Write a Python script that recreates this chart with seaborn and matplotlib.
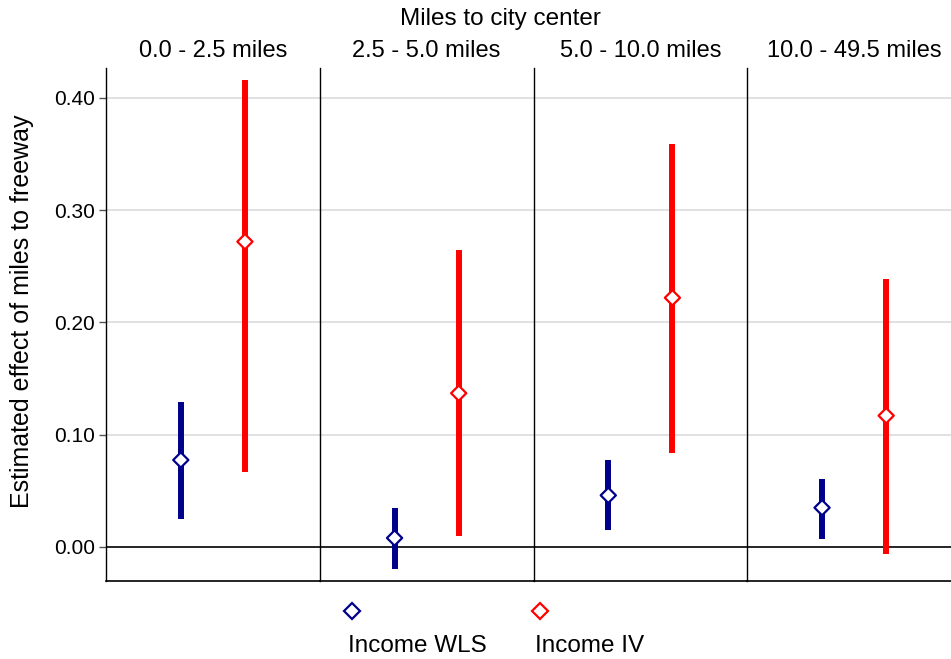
import matplotlib
matplotlib.use("Agg")
import matplotlib.pyplot as plt
from matplotlib.lines import Line2D
import seaborn as sns
import pandas as pd

panels = ["0.0 - 2.5 miles", "2.5 - 5.0 miles", "5.0 - 10.0 miles", "10.0 - 49.5 miles"]
series = ["Income WLS", "Income IV"]
wls_est = [0.0775, 0.008, 0.046, 0.035]
wls_lo = [0.025, -0.0196, 0.015, 0.007]
wls_hi = [0.129, 0.035, 0.0775, 0.061]
iv_est = [0.272, 0.137, 0.222, 0.117]
iv_lo = [0.067, 0.010, 0.084, -0.006]
iv_hi = [0.416, 0.265, 0.359, 0.239]
yticks = [0.0, 0.1, 0.2, 0.3, 0.4]
ytick_labels = ["0.00", "0.10", "0.20", "0.30", "0.40"]

colors = {"Income WLS": "#00008B", "Income IV": "#FF0000"}

rows = []
for i, p in enumerate(panels):
    rows.append(dict(panel=p, series="Income WLS", pos=0, est=wls_est[i], lo=wls_lo[i], hi=wls_hi[i]))
    rows.append(dict(panel=p, series="Income IV", pos=1, est=iv_est[i], lo=iv_lo[i], hi=iv_hi[i]))
df = pd.DataFrame(rows)

sns.set_theme(style="white")
plt.rcParams["font.family"] = ["Liberation Sans", "DejaVu Sans"]
plt.rcParams["text.color"] = "black"
plt.rcParams["ytick.color"] = "black"

W, H = 951, 659
fig = plt.figure(figsize=(W / 100, H / 100), dpi=100)

left = 106 / W
pw = 213.75 / W
bottom = 1 - 581 / H
height = (581 - 68) / H

for i, p in enumerate(panels):
    ax = fig.add_axes([left + i * pw, bottom, pw, height])
    sub = df[df.panel == p]
    for y in [0.1, 0.2, 0.3, 0.4]:
        ax.axhline(y, color="#DCDCDC", lw=1.2, zorder=0)
    ax.axhline(0, color="black", lw=1.2, zorder=1)
    for _, r in sub.iterrows():
        ax.vlines(r.pos, r.lo, r.hi, color=colors[r.series], lw=4.3, zorder=2)
    sns.scatterplot(data=sub, x="pos", y="est", hue="series", palette=colors,
                    marker="D", s=60, facecolor="white", linewidth=1.6,
                    legend=False, ax=ax, zorder=3)
    coll = ax.collections[-1]
    coll.set_edgecolors([colors[s] for s in sub.series])
    coll.set_facecolors("white")
    ax.set_xlim(-1.1667, 2.1667)
    ax.set_ylim(-0.0303, 0.4267)
    ax.set_xticks([])
    ax.set_xlabel("")
    ax.set_ylabel("")
    ax.text(0.5, 1 + (68 - 57) / 513, p, transform=ax.transAxes, ha="center",
            va="baseline", fontsize=17)
    for s in ["top", "right"]:
        ax.spines[s].set_visible(False)
    ax.spines["left"].set_color("black")
    ax.spines["left"].set_linewidth(1.0)
    ax.spines["bottom"].set_color("black")
    ax.spines["bottom"].set_linewidth(1.2)
    if i == 0:
        ax.set_yticks(yticks)
        ax.set_yticklabels(ytick_labels, fontsize=15)
        ax.tick_params(axis="y", left=True, length=5, width=1, color="#555555", pad=3)
    else:
        ax.set_yticks([])

fig.text(500 / W, 1 - 25 / H, "Miles to city center", ha="center", va="baseline", fontsize=17.5)
fig.text(22 / W, 1 - 311 / H, "Estimated effect of miles to freeway", ha="center", va="center",
         rotation=90, fontsize=18)

for s, xm, xt in [("Income WLS", 352, 348), ("Income IV", 540, 535)]:
    fig.add_artist(Line2D([xm / W], [1 - 611 / H], marker="D", markersize=8.5,
                          markerfacecolor="white", markeredgecolor=colors[s],
                          markeredgewidth=1.6, linestyle="none", transform=fig.transFigure))
    fig.text(xt / W, 1 - 652 / H, s, ha="left", va="baseline", fontsize=17.5)

fig.savefig("out.png", dpi=100)
